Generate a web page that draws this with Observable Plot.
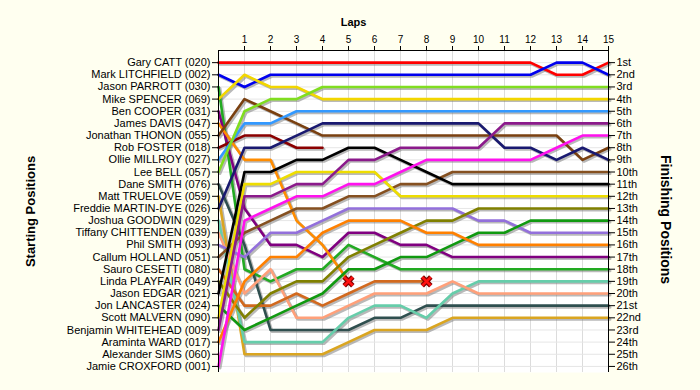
<!DOCTYPE html>
<html><head><meta charset="utf-8">
<script src="https://cdn.jsdelivr.net/npm/d3@7"></script>
<script src="https://cdn.jsdelivr.net/npm/@observablehq/plot@0.6"></script>
<style>html,body{margin:0;padding:0;background:#fffff0;}</style>
</head><body><div id="chart"></div>
<script>
const drivers = [
  "Gary CATT (020)","Mark LITCHFIELD (002)","Jason PARROTT (030)","Mike SPENCER (069)",
  "Ben COOPER (031)","James DAVIS (047)","Jonathan THONON (055)","Rob FOSTER (018)",
  "Ollie MILLROY (027)","Lee BELL (057)","Dane SMITH (076)","Matt TRUELOVE (059)",
  "Freddie MARTIN-DYE (026)","Joshua GOODWIN (029)","Tiffany CHITTENDEN (039)","Phil SMITH (093)",
  "Callum HOLLAND (051)","Sauro CESETTI (080)","Linda PLAYFAIR (049)","Jason EDGAR (021)",
  "Jon LANCASTER (024)","Scott MALVERN (090)","Benjamin WHITEHEAD (009)","Araminta WARD (017)",
  "Alexander SIMS (060)","Jamie CROXFORD (001)"
];
const finishLabels = ["1st","2nd","3rd","4th","5th","6th","7th","8th","9th","10th","11th","12th","13th",
  "14th","15th","16th","17th","18th","19th","20th","21st","22nd","23rd","24th","25th","26th"];
const lapTicks = [1,2,3,4,5,6,7,8,9,10,11,12,13,14,15];

// position of each driver (in starting order) at lap 0..15 ; shorter rows = retired
const lapPositions = [
  [1,1,1,1,1,1,1,1,1,1,1,1,1,2,2,1],
  [2,3,2,2,2,2,2,2,2,2,2,2,2,1,1,2],
  [3,18,19,18,18,16,17,18,18,18,18,18,18,18,18,18],
  [4,2,3,3,4,4,4,4,4,4,4,4,4,4,4,4],
  [5,13,16,16,17,15,15,16,16,17,17,17,17,17,17,17],
  [6,9,9,14,16,19],
  [7,4,5,6,7,7,7,7,7,7,7,7,7,7,9,8],
  [8,7,7,8,8],
  [9,6,6,5,5,5,5,5,5,5,5,5,5,5,5,5],
  [10,5,4,4,3,3,3,3,3,3,3,3,3,3,3,3],
  [11,16,23,23,23,23,22,22,21,21,21,21,21,21,21,21],
  [12,25,25,25,25,24,23,23,23,22,22,22,22,22,22,22],
  [13,8,8,7,6,6,6,6,6,6,6,8,8,9,8,9],
  [14,24,24,24,24,22,21,21,22,20,19,19,19,19,19,19],
  [15,20,18,22,22,21,20,20,20,19,20,20,20,20,20,20],
  [16,17,15,15,14,13,13,13,13,13,14,14,15,15,15,15],
  [17,15,14,13,13,12,12,11,11,10,10,10,10,10,10,10],
  [18,21,21,20,21,20,19,19,19],
  [19,22,20,19,19,17,16,15,14,14,13,13,13,13,13,13],
  [20,10,10,9,9,8,8,9,10,11,11,11,11,11,11,11],
  [21,23,22,21,20,18,18,17,17,16,15,15,14,14,14,14],
  [22,11,11,10,10,10,10,12,12,12,12,12,12,12,12,12],
  [23,12,12,11,11,9,9,8,8,8,8,6,6,6,6,6],
  [24,19,17,17,15,14,14,14,15,15,16,16,16,16,16,16],
  [26,14,13,12,12,11,11,10,9,9,9,9,9,8,7,7],
  [25]
];
const retiredWithFlag = [5, 17]; // driver indexes whose last lap is marked with a cross

const lineColors = [
  "#ff0000","#0000ee","#22aa22","#f2d600","#800080","#ff8c00","#7a4010","#8b0000",
  "#3399ff","#80dd20","#2f4f4f","#daa520","#191970","#66cdaa","#ffa07a","#9370db",
  "#855020","#d2691e","#808000","#000000","#109910","#eedd00","#8b1a8b","#ff8000",
  "#ff11ee","#ff66cc"
];

const rows = [];
lapPositions.forEach((ps, i) => ps.forEach((p, lap) => rows.push({driver: i, lap, pos: p})));
const crosses = retiredWithFlag.map(i => ({driver: i, lap: lapPositions[i].length - 1, pos: lapPositions[i][lapPositions[i].length - 1]}));

const font = "'Liberation Sans', Arial, sans-serif";
const chart = Plot.plot({
  width: 700, height: 390,
  marginLeft: 218, marginRight: 92, marginTop: 50, marginBottom: 18,
  style: {background: "#fffff0", fontFamily: font, overflow: "visible"},
  x: {domain: [0, 15], axis: null},
  y: {domain: [26.5, 0], axis: null},
  marks: [
    Plot.frame({fill: "#ffffff", stroke: null}),
    Plot.gridX(lapTicks, {stroke: "#dcdcdc", strokeOpacity: 1}),
    Plot.gridY(d3.range(1, 27), {stroke: "#e6e6e6", strokeOpacity: 1}),
    Plot.line(rows, {x: "lap", y: "pos", z: "driver", stroke: "#808080", strokeOpacity: 0.55, strokeWidth: 3, dx: 1.5, dy: 1.5}),
    Plot.line(rows, {x: "lap", y: "pos", z: "driver", stroke: d => lineColors[d.driver], strokeWidth: 2.6}),
    Plot.dot(crosses, {x: "lap", y: "pos", symbol: "times", r: 4, stroke: "#800000", strokeWidth: 5}),
    Plot.dot(crosses, {x: "lap", y: "pos", symbol: "times", r: 4, stroke: "#ff1010", strokeWidth: 2.6}),
    Plot.ruleX([0, 15], {stroke: "#000"}),
    Plot.ruleY([0], {stroke: "#000"}),
    Plot.axisX(lapTicks, {anchor: "top", tickSize: 5, tickPadding: 3, fontSize: 10, label: null, stroke: "#000"}),
    Plot.axisY(d3.range(1, 27), {anchor: "left", tickSize: 6, tickPadding: 2, fontSize: 11, label: null,
      tickFormat: i => drivers[i - 1], stroke: "#000"}),
    Plot.axisY(d3.range(1, 27), {anchor: "right", tickSize: 6, tickPadding: 2, fontSize: 11, label: null,
      tickFormat: i => finishLabels[i - 1], stroke: "#000"}),
    Plot.text(["Laps"], {frameAnchor: "top", dx: -60, dy: -32, fontWeight: "bold", fontSize: 11}),
    Plot.text(["Starting Positions"], {frameAnchor: "left", textAnchor: "middle", dx: -188, rotate: -90, fontWeight: "bold", fontSize: 13}),
    Plot.text(["Finishing Positions"], {frameAnchor: "right", textAnchor: "middle", dx: 57, dy: 8, rotate: 90, fontWeight: "bold", fontSize: 14})
  ]
});
document.getElementById("chart").appendChild(chart);
</script>
</body></html>
